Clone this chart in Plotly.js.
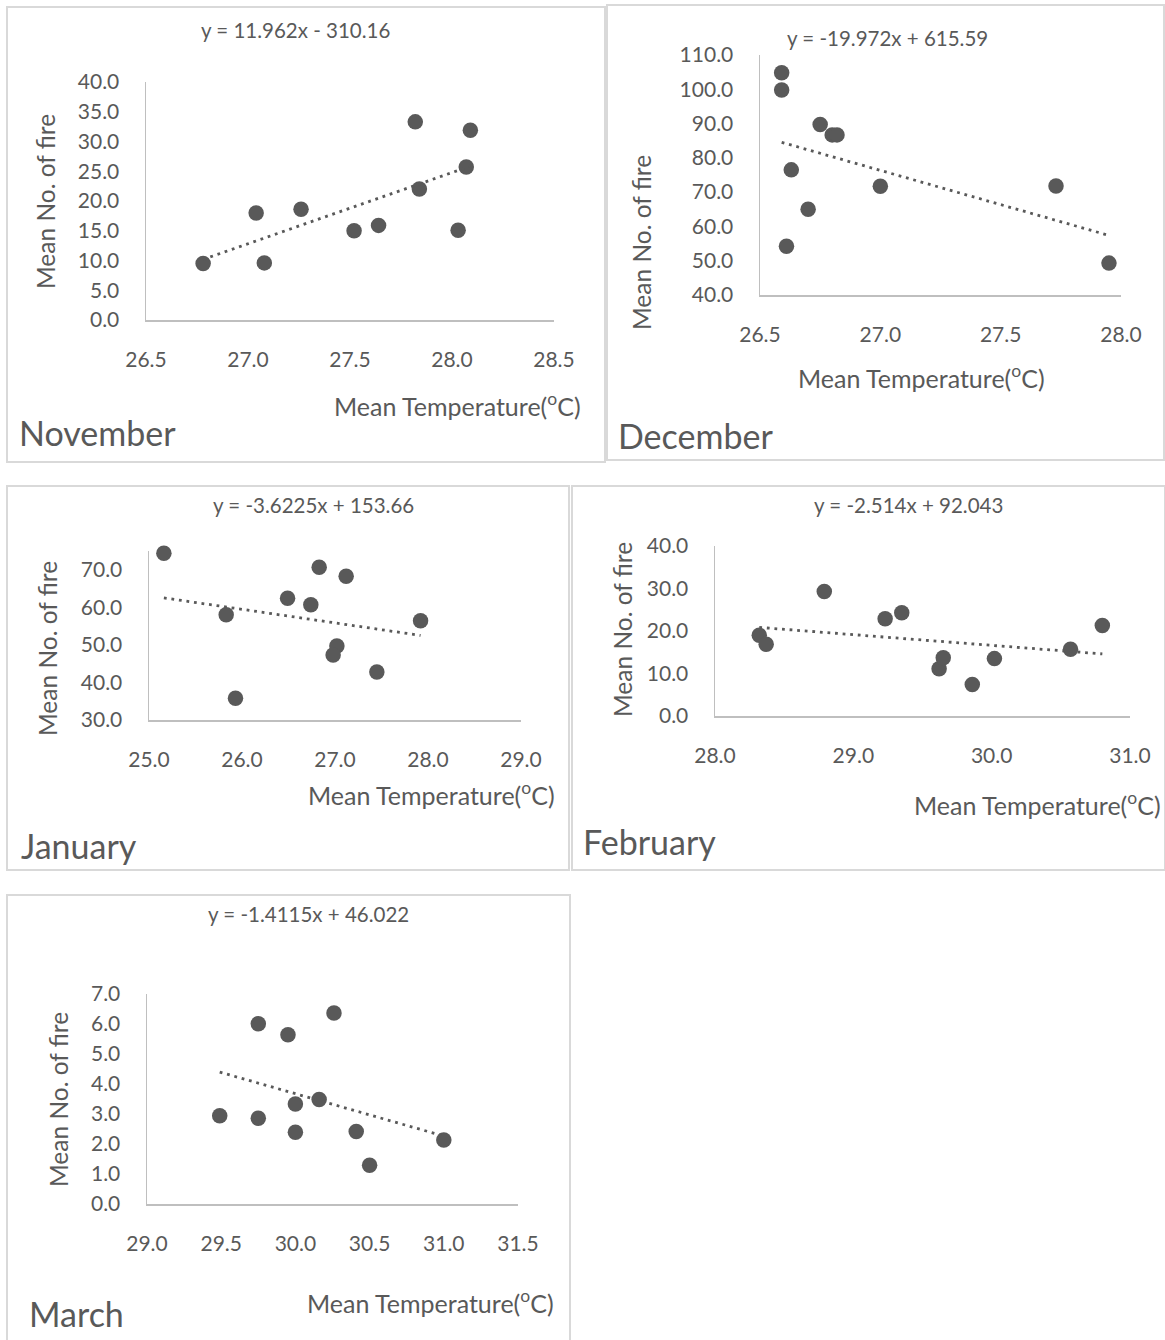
<!DOCTYPE html>
<html>
<head>
<meta charset="utf-8">
<script src="https://cdn.plot.ly/plotly-3.0.1.min.js"></script>
<style>
  html, body { margin: 0; padding: 0; background: #ffffff; }
  #chart { width: 1165px; height: 1340px; }
</style>
</head>
<body>
<div id="chart"></div>
<script>
// ---------------- DATA ----------------
const months = ["November", "December", "January", "February", "March"];

const novTemp = [26.78, 27.04, 27.08, 27.26, 27.52, 27.64, 27.82, 27.84, 28.03, 28.07, 28.09];
const novFire = [9.5, 18.0, 9.6, 18.6, 15.0, 15.9, 33.3, 22.0, 15.1, 25.7, 31.9];

const decTemp = [26.59, 26.59, 26.75, 26.80, 26.82, 26.63, 27.00, 26.70, 26.61, 27.73, 27.95];
const decFire = [104.8, 99.8, 89.7, 86.7, 86.7, 76.5, 71.7, 65.0, 54.2, 71.8, 49.3];

const janTemp = [25.16, 25.83, 25.93, 26.49, 26.74, 26.83, 27.12, 27.02, 26.98, 27.45, 27.92];
const janFire = [74.4, 58.0, 35.8, 62.4, 60.7, 70.7, 68.3, 49.7, 47.3, 42.8, 56.4];

const febTemp = [28.32, 28.37, 28.79, 29.23, 29.35, 29.62, 29.65, 29.86, 30.02, 30.57, 30.80];
const febFire = [19.0, 16.9, 29.3, 22.9, 24.3, 11.1, 13.7, 7.4, 13.5, 15.7, 21.3];

const marTemp = [29.49, 29.75, 29.75, 29.95, 30.00, 30.00, 30.16, 30.26, 30.41, 30.50, 31.00];
const marFire = [2.94, 6.01, 2.86, 5.64, 3.33, 2.39, 3.48, 6.37, 2.42, 1.29, 2.13];

// linear trendline coefficients (as printed on the chart)
const slopes = [11.962, -19.972, -3.6225, -2.514, -1.4115];
const intercepts = [-310.16, 615.59, 153.66, 92.043, 46.022];
const equations = ["y = 11.962x - 310.16", "y = -19.972x + 615.59", "y = -3.6225x + 153.66", "y = -2.514x + 92.043", "y = -1.4115x + 46.022"];

// axis scales
const xRanges = [[26.5, 28.5], [26.5, 28.0], [25.0, 29.0], [28.0, 31.0], [29.0, 31.5]];
const xSteps = [0.5, 0.5, 1.0, 1.0, 0.5];
const yRanges = [[0, 40], [40, 110], [30, 75], [0, 40], [0, 7]];
const ySteps = [5, 10, 10, 10, 1];

const xTitle = "Mean Temperature(<sup>o</sup>C)";
const yTitle = "Mean No. of fire";

// ---------------- LAYOUT (pixels) ----------------
const W = 1165, H = 1340;
const px = v => v / W;
const py = v => 1 - v / H;

const temps = [novTemp, decTemp, janTemp, febTemp, marTemp];
const fires = [novFire, decFire, janFire, febFire, marFire];

// plot areas [left, right, top, bottom]
const areas = [
  [146, 554, 82, 320],
  [760, 1121, 55, 295],
  [149, 521, 551, 720],
  [715, 1130, 546, 716],
  [147, 518, 994, 1204]
];
// panel borders [x0, y0, x1, y1]
const borders = [
  [7, 7, 605, 462],
  [607, 5, 1164, 460],
  [7, 486, 569, 870],
  [572, 486, 1165, 870],
  [7, 895, 570, 1350]
];
// text positions
const eqPos = [[295, 30], [887, 38], [313, 505], [908, 505], [308, 914]];
const yTitlePos = [[45, 202], [641, 242], [47, 649], [622, 630], [58, 1100]];
const xTitlePos = [[457, 404], [921, 376], [431, 794], [1037, 803], [430, 1301]];
const monthPos = [[17, 433], [616, 436], [19, 845], [581, 841], [27, 1313]];

const FONT = "Lato, 'Open Sans', sans-serif";
const GREY = "#595959";

const traces = [];
const layout = {
  width: W, height: H,
  margin: {l: 0, r: 0, t: 0, b: 0},
  paper_bgcolor: "#ffffff",
  plot_bgcolor: "rgba(0,0,0,0)",
  showlegend: false,
  font: {family: FONT, color: GREY},
  shapes: [],
  annotations: []
};

for (let i = 0; i < 5; i++) {
  const sfx = i === 0 ? "" : String(i + 1);
  const xa = "x" + sfx, ya = "y" + sfx;
  const [l, r, t, b] = areas[i];

  traces.push({
    type: "scatter", mode: "markers",
    x: temps[i], y: fires[i],
    xaxis: xa, yaxis: ya,
    cliponaxis: false,
    marker: {color: GREY, size: 15.5},
    hoverinfo: "skip"
  });

  const xmin = Math.min(...temps[i]);
  const xmax = Math.max(...temps[i]);
  traces.push({
    type: "scatter", mode: "lines",
    x: [xmin, xmax],
    y: [slopes[i] * xmin + intercepts[i], slopes[i] * xmax + intercepts[i]],
    xaxis: xa, yaxis: ya,
    cliponaxis: false,
    line: {color: GREY, width: 2.8, dash: "2.8px,4.8px"},
    hoverinfo: "skip"
  });

  layout["xaxis" + sfx] = {
    domain: [px(l), px(r)],
    anchor: ya,
    range: xRanges[i], tick0: xRanges[i][0], dtick: xSteps[i],
    tickformat: ".1f",
    showline: true, linecolor: "#bfbfbf", linewidth: 1.5,
    showgrid: false, zeroline: false,
    ticks: "outside", ticklen: 20, tickcolor: "rgba(0,0,0,0)",
    tickfont: {family: FONT, size: 21, color: GREY},
    fixedrange: true
  };
  layout["yaxis" + sfx] = {
    domain: [py(b), py(t)],
    anchor: xa,
    range: yRanges[i], tick0: 0, dtick: ySteps[i],
    tickformat: ".1f",
    showline: true, linecolor: "#bfbfbf", linewidth: 1.5,
    showgrid: false, zeroline: false,
    ticks: "outside", ticklen: 21, tickcolor: "rgba(0,0,0,0)",
    tickfont: {family: FONT, size: 21, color: GREY},
    fixedrange: true
  };

  const [bx0, by0, bx1, by1] = borders[i];
  layout.shapes.push({
    type: "rect", xref: "paper", yref: "paper",
    x0: px(bx0), x1: px(bx1), y0: py(by0), y1: py(by1),
    line: {color: "#d9d9d9", width: 2}, fillcolor: "rgba(0,0,0,0)", layer: "below"
  });

  layout.annotations.push({
    xref: "paper", yref: "paper", x: px(eqPos[i][0]), y: py(eqPos[i][1]),
    xanchor: "center", yanchor: "middle", showarrow: false,
    text: equations[i], font: {family: FONT, size: 20.5, color: GREY}
  });
  layout.annotations.push({
    xref: "paper", yref: "paper", x: px(yTitlePos[i][0]), y: py(yTitlePos[i][1]),
    xanchor: "center", yanchor: "middle", showarrow: false, textangle: -90,
    text: yTitle, font: {family: FONT, size: 24.5, color: GREY}
  });
  layout.annotations.push({
    xref: "paper", yref: "paper", x: px(xTitlePos[i][0]), y: py(xTitlePos[i][1]),
    xanchor: "center", yanchor: "middle", showarrow: false,
    text: xTitle, font: {family: FONT, size: 25, color: GREY}
  });
  layout.annotations.push({
    xref: "paper", yref: "paper", x: px(monthPos[i][0]), y: py(monthPos[i][1]),
    xanchor: "left", yanchor: "middle", showarrow: false,
    text: months[i], font: {family: FONT, size: 34, color: GREY}
  });
}

Plotly.newPlot("chart", traces, layout, {staticPlot: true, displayModeBar: false});
</script>
</body>
</html>
